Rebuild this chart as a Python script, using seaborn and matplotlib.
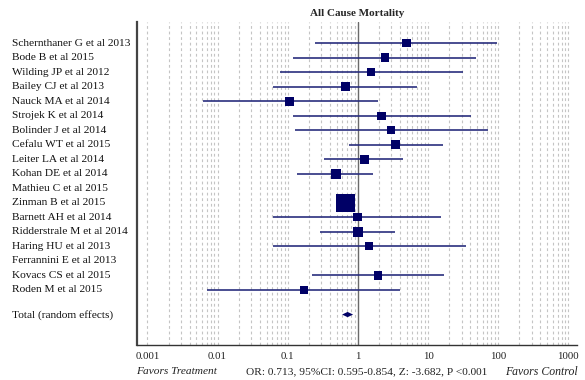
import numpy as np
import pandas as pd
import seaborn as sns
from matplotlib import pyplot as plt
from matplotlib.ticker import FixedLocator, NullFormatter
from matplotlib.transforms import blended_transform_factory

# study level odds ratios (NaN = no events, nothing drawn)
studies = ['Schernthaner G et al 2013', 'Bode B et al 2015', 'Wilding JP et al 2012',
           'Bailey CJ et al 2013', 'Nauck MA et al 2014', 'Strojek K et al 2014',
           'Bolinder J et al 2014', 'Cefalu WT et al 2015', 'Leiter LA et al 2014',
           'Kohan DE et al 2014', 'Mathieu C et al 2015', 'Zinman B et al 2015',
           'Barnett AH et al 2014', 'Ridderstrale M et al 2014', 'Haring HU et al 2013',
           'Ferrannini E et al 2013', 'Kovacs CS et al 2015', 'Roden M et al 2015']
odds_ratio = [4.93, 2.43, 1.53, 0.667, 0.107, 2.17, 2.95, 3.44, 1.23,
              0.486, np.nan, 0.667, 0.99, 1.01, 1.45, np.nan, 1.95, 0.17]
ci_low = [0.244, 0.12, 0.077, 0.061, 0.0063, 0.117, 0.127, 0.745, 0.33,
          0.134, np.nan, 0.57, 0.061, 0.29, 0.061, np.nan, 0.22, 0.0071]
ci_high = [94.6, 48.0, 31.0, 7.0, 1.95, 40.7, 72.0, 16.1, 4.42,
           1.65, np.nan, 0.82, 15.1, 3.37, 34.5, np.nan, 16.8, 3.96]
weight = [1.0, 1.0, 1.0, 1.0, 1.1, 1.0, 1.0, 1.1, 1.1,
          1.6, np.nan, 5.0, 0.9, 1.6, 0.9, np.nan, 1.0, 1.0]

total_label = 'Total (random effects)'
total_or = 0.713
total_low = 0.595
total_high = 0.854

tick_values = [0.001, 0.01, 0.1, 1, 10, 100, 1000]
tick_labels = ['0.001', '0.01', '0.1', '1', '10', '100', '1000']

df = pd.DataFrame({'study': studies, 'or': odds_ratio, 'lo': ci_low,
                   'hi': ci_high, 'weight': weight})
df['row'] = np.arange(len(df))
total_row = 18.7

sns.set_style('white')
plt.rcParams['font.family'] = ['Liberation Serif', 'DejaVu Serif']

fig = plt.figure(figsize=(5.85, 3.8), dpi=100)
ax = fig.add_axes([0.234, 0.092, 0.752, 0.85])
ax.set_xscale('log')

# dashed grid at every decade step
minor = [m * 10.0 ** k for k in range(-3, 3) for m in range(1, 10)] + [1000]
for v in minor:
    if v != 1:
        ax.axvline(v, color='#c4c4c4', lw=0.8, ls=(0, (2.5, 2.5)), zorder=0)
ax.axvline(1, color='#6a6a6a', lw=1.0, zorder=1)

shown = df.dropna()
ax.hlines(shown['row'], shown['lo'], shown['hi'], color='#2a2f7e', lw=1.2, zorder=2)
sns.scatterplot(data=shown, x='or', y='row', size='weight', sizes=(36, 175),
                size_norm=(1, 5), marker='s', color='#000066', edgecolor='none',
                legend=False, ax=ax, zorder=3)

# pooled diamond
ax.fill([total_low, total_or, total_high, total_or],
        [total_row, total_row - 0.18, total_row, total_row + 0.18],
        color='#000066', lw=0, zorder=3)

ax.set_xlim(10 ** -3.15, 10 ** 3.12)
ax.set_ylim(20.8, -1.45)
ax.set_yticks([])
ax.set_xlabel('')
ax.set_ylabel('')

ax.xaxis.set_major_locator(FixedLocator(tick_values))
ax.set_xticklabels(tick_labels)
ax.xaxis.set_minor_locator(FixedLocator([v for v in minor if v not in tick_values]))
ax.xaxis.set_minor_formatter(NullFormatter())
ax.tick_params(axis='x', which='major', direction='in', length=5, width=0.8,
               color='#333333', labelsize=7.8, labelcolor='#222222', pad=5)
ax.tick_params(axis='x', which='minor', direction='in', length=3, width=0.6,
               color='#555555')

for s in ['top', 'right']:
    ax.spines[s].set_visible(False)
ax.spines['left'].set_color('#444444')
ax.spines['left'].set_linewidth(1.6)
ax.spines['bottom'].set_color('#333333')
ax.spines['bottom'].set_linewidth(1.0)

trans = blended_transform_factory(fig.transFigure, ax.transData)
for name, r in zip(df['study'], df['row']):
    fig.text(0.021, r, name, transform=trans, fontsize=8.2, va='center', ha='left',
             color='#111111')
fig.text(0.021, total_row, total_label, transform=trans, fontsize=8.2,
         va='center', ha='left', color='#111111')

ax.set_title('All Cause Mortality', fontsize=8, fontweight='bold', pad=4)

fig.text(0.232, 0.022, 'Favors Treatment', fontsize=8.2, style='italic', ha='left',
         va='center', color='#222222')
fig.text(0.627, 0.022, 'OR: 0.713, 95%CI: 0.595-0.854, Z: -3.682, P <0.001',
         fontsize=8.2, ha='center', va='center', color='#222222')
fig.text(0.987, 0.022, 'Favors Control', fontsize=8.5, style='italic', ha='right',
         va='center', color='#222222')

plt.savefig('out.png', dpi=100)
